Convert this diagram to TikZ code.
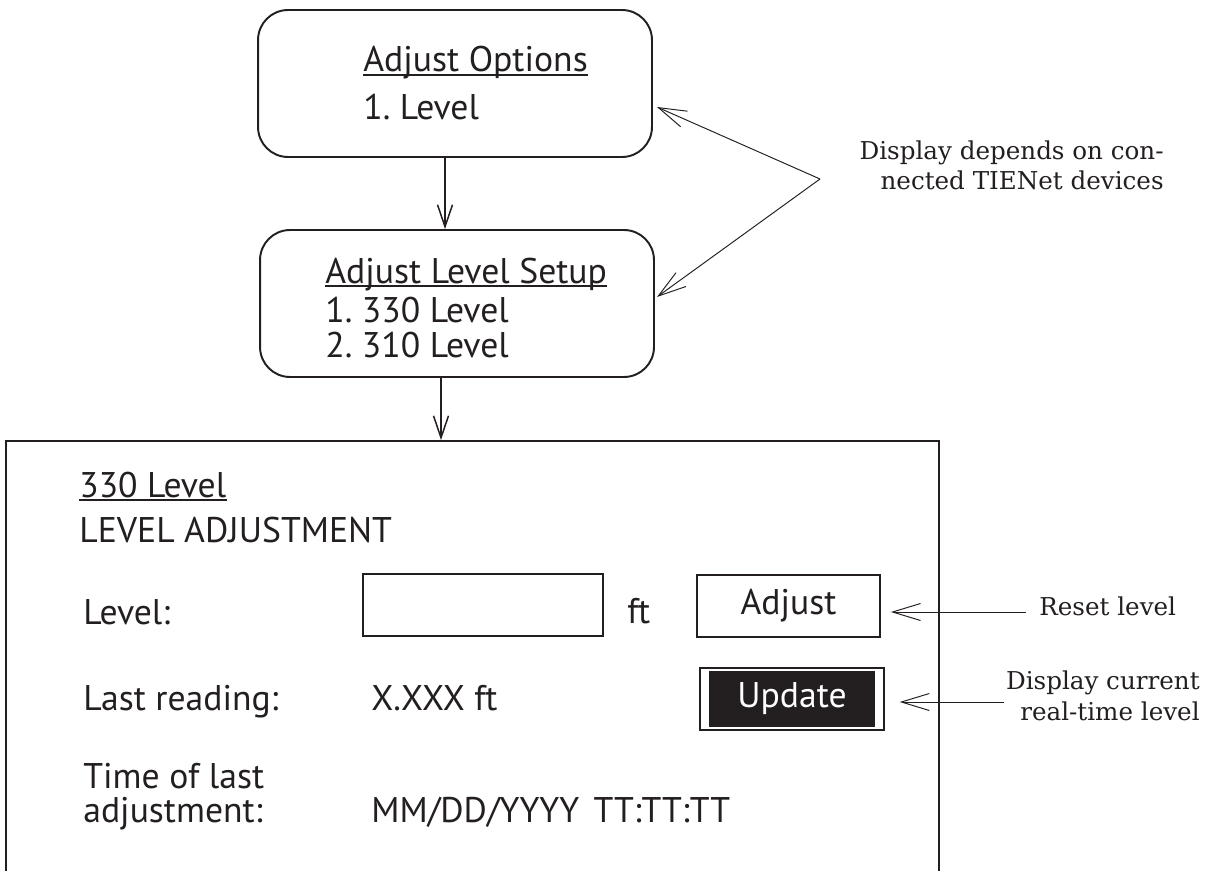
\documentclass[tikz,border=0pt]{standalone}
\usepackage{fontspec}
\setmainfont{PT Sans}
\newfontfamily\notefont{DejaVu Serif}
\usetikzlibrary{arrows.meta,positioning}
\definecolor{ink}{HTML}{231F20}
\newcommand{\scrfont}{\fontsize{20.3}{19.3}\selectfont}
\frenchspacing

\begin{document}
\begin{tikzpicture}[x=0.02cm,y=-0.02cm]
\tikzset{
  menubox/.style={draw=ink,line width=1.1pt,rounded corners=0.6cm,minimum width=7.88cm,minimum height=2.94cm,inner sep=0pt},
  screenbox/.style={draw=ink,line width=1.1pt,minimum width=18.66cm,minimum height=9.18cm,inner sep=0pt},
  fieldbox/.style={draw=ink,line width=1pt,minimum width=4.8cm,minimum height=1.24cm,inner sep=0pt},
  btnbox/.style={draw=ink,line width=1pt,minimum width=3.66cm,minimum height=1.24cm,inner sep=0pt,font=\scrfont,text=ink},
  btnframe/.style={draw=ink,line width=0.8pt,minimum width=3.68cm,minimum height=1.24cm,inner sep=0pt},
  btnfill/.style={fill=ink,minimum width=3.32cm,minimum height=1.12cm,inner sep=0pt,font=\scrfont,text=white},
  scrtext/.style={inner sep=0pt,anchor=base west,font=\scrfont,text=ink},
  notetext/.style={inner sep=0pt,font=\notefont\fontsize{14}{17.6}\selectfont,text=ink},
  underbar/.style={draw=ink,line width=0.9pt},
  flow/.style={draw=ink,line width=0.85pt,-{Straight Barb[length=0.44cm,width=0.3cm]}},
  note/.style={draw=ink,line width=0.55pt,-{Straight Barb[length=0.56cm,width=0.34cm]}}
}
\useasboundingbox (0,0) rectangle (1212,871);
\clip (0,0) rectangle (1212,871);
\node[menubox] (n_opts) at (455,83.5) {};
\node[menubox] (n_setup) at (457,303.5) {};
\node[screenbox] (n_screen) at (472.5,670.5) {};
\node[scrtext] (t_opts) at (363,72) {Adjust Options};
\node[scrtext] (t_lvl) at (363,120) {1. Level};
\node[scrtext] (t_setup) at (325,283) {Adjust Level Setup};
\node[scrtext] (t_s1) at (325,322) {1. 330 Level};
\node[scrtext] (t_s2) at (325,357) {2. 310 Level};
\node[scrtext] (t_330) at (79,497) {330 Level};
\node[scrtext] (t_head) at (79,542) {LEVEL ADJUSTMENT};
\node[scrtext] (t_level) at (83,624) {Level:};
\node[fieldbox] (n_field) at (483,605) {};
\node[scrtext] (t_ft) at (627,623) {ft};
\node[btnbox] (n_adjust) at (788.5,606) {Adjust};
\node[scrtext] (t_last) at (83,710) {Last reading:};
\node[scrtext] (t_lastval) at (371,710) {X.XXX ft};
\node[btnframe] (n_updframe) at (792,699) {};
\node[btnfill] (n_update) at (792,699) {Update};
\node[scrtext,align=left] (t_time) at (83,822) {Time of last\\adjustment:};
\node[scrtext] (t_timeval) at (371,822) {MM/DD/YYYY\hspace{0.4em}TT:TT:TT};
\node[notetext,align=right,anchor=base east] (n_devnote) at (1164,190) {Display depends on con-\\nected TIENet devices};
\node[notetext,anchor=base west] (n_reset) at (1039,615) {Reset level};
\node[notetext,align=right,anchor=base east] (n_rtnote) at (1200,720) {Display current\\real-time level};
\coordinate (n_apex) at (820,179);
\coordinate (x_a) at (445,0);
\coordinate (x_b) at (441,0);
\foreach \t in {t_opts,t_setup,t_330}
  \draw[underbar] ([yshift=-0.06cm]\t.base west) -- ([yshift=-0.06cm]\t.base east);
\draw[flow] (n_opts.south -| x_a) -- (n_setup.north -| x_a);
\draw[flow] (n_setup.south -| x_b) -- (n_screen.north -| x_b);
\draw[note] (n_apex) -- ([shift={(4,23.5)}]n_opts.east);
\draw[note] (n_apex) -- ([shift={(2,-6.5)}]n_setup.east);
\draw[note] ([shift={(-13,-3)}]n_reset.base west) coordinate (r_0) -- ([xshift=0.2cm]r_0 -| n_adjust.east);
\draw[note] ([shift={(-2,-18)}]n_rtnote.base west) coordinate (r_1) -- ([xshift=0.3cm]r_1 -| n_updframe.east);
\end{tikzpicture}
\end{document}
